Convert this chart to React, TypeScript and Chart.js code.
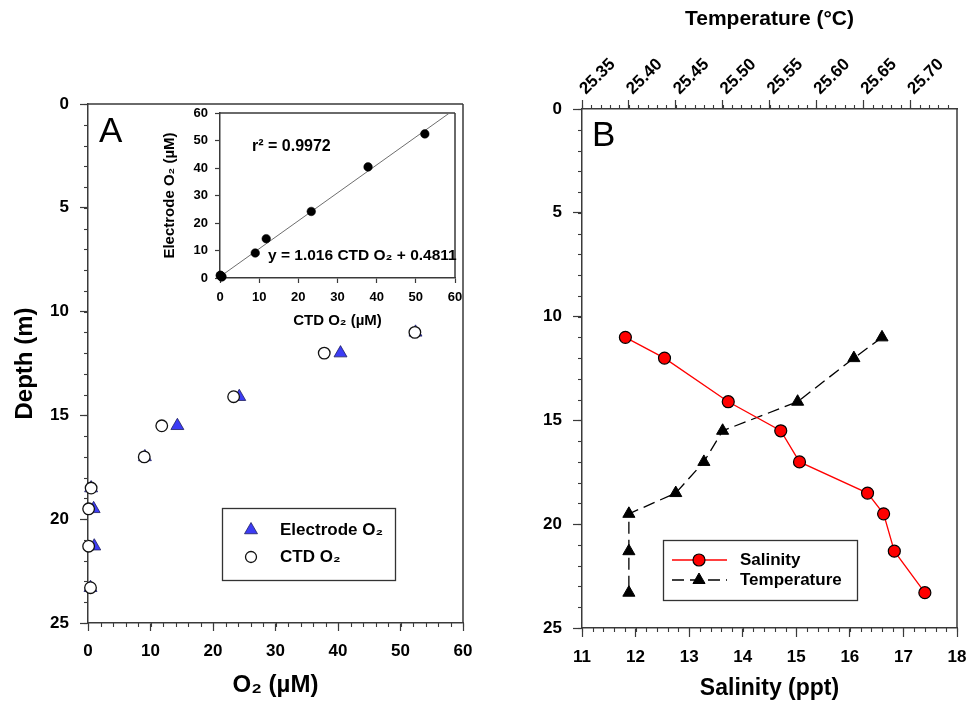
import React, { useEffect, useRef } from 'react';
import { Chart, registerables } from 'chart.js';

Chart.register(...registerables);

const FAMILY = '"Liberation Sans", Arial, Helvetica, sans-serif';
const AXIS_COLOR = '#3a3a3a';
const INK = '#000000';

// ---------- Panel A : O2 depth profiles ----------
const DEPTH_A = [11.0, 12.0, 14.1, 15.5, 17.0, 18.5, 19.5, 21.3, 23.3];
const CTD_O2 = [52.3, 37.8, 23.3, 11.8, 9.0, 0.5, 0.1, 0.1, 0.4];
const ELECTRODE_O2 = [52.4, 40.4, 24.2, 14.3, 9.1, 0.5, 0.9, 1.0, 0.4];
const O2_TICKS = [0, 10, 20, 30, 40, 50, 60];
const DEPTH_TICKS = [0, 5, 10, 15, 20, 25];

// ---------- Inset : electrode vs CTD ----------
const INSET_TICKS = [0, 10, 20, 30, 40, 50, 60];
const FIT_X = [0, 60];
const FIT_Y = [0.48, 61.44];
const R2_LABEL = 'r² = 0.9972';
const FIT_LABEL = 'y = 1.016 CTD O₂ + 0.4811';

// ---------- Panel B : salinity & temperature ----------
const DEPTH_B = [11.0, 12.0, 14.1, 15.5, 17.0, 18.5, 19.5, 21.3, 23.3];
const SALINITY = [11.81, 12.54, 13.73, 14.71, 15.06, 16.33, 16.63, 16.83, 17.4];
const TEMPERATURE = [25.67, 25.64, 25.58, 25.5, 25.48, 25.45, 25.4, 25.4, 25.4];
const SALINITY_TICKS = [11, 12, 13, 14, 15, 16, 17, 18];
const TEMP_TICKS = [25.35, 25.4, 25.45, 25.5, 25.55, 25.6, 25.65, 25.7];

const font = (size: number, weight: string = 'bold') => ({ family: FAMILY, size, weight, lineHeight: 1.2 });

// ---------- plugins ----------
const minorTicksPlugin = {
  id: 'minorTicks',
  afterDraw(chart: any, _a: any, opts: any) {
    const ctx = chart.ctx;
    ctx.save();
    ctx.strokeStyle = AXIS_COLOR;
    ctx.lineWidth = 1.1;
    for (const s of opts.specs || []) {
      const scale = chart.scales[s.id];
      if (!scale) continue;
      const n = Math.round((scale.max - scale.min) / s.step);
      const last = s.skipEnd ? n - 1 : n;
      for (let i = 0; i <= last; i++) {
        const p = Math.round(scale.getPixelForValue(scale.min + i * s.step)) + 0.5;
        ctx.beginPath();
        if (scale.position === 'left') {
          ctx.moveTo(scale.right, p);
          ctx.lineTo(scale.right - s.len, p);
        } else if (scale.position === 'bottom') {
          ctx.moveTo(p, scale.top);
          ctx.lineTo(p, scale.top + s.len);
        } else if (scale.position === 'top') {
          ctx.moveTo(p, scale.bottom);
          ctx.lineTo(p, scale.bottom - s.len);
        }
        ctx.stroke();
      }
    }
    ctx.restore();
  },
};

const framePlugin = {
  id: 'frame',
  beforeDatasetsDraw(chart: any, _a: any, opts: any) {
    const { left, right, top, bottom } = chart.chartArea;
    const ctx = chart.ctx;
    ctx.save();
    ctx.strokeStyle = AXIS_COLOR;
    ctx.lineWidth = 1.5;
    ctx.beginPath();
    for (const side of opts.sides || []) {
      if (side === 'top') { ctx.moveTo(left, top); ctx.lineTo(right, top); }
      if (side === 'right') { ctx.moveTo(right, top); ctx.lineTo(right, bottom); }
    }
    ctx.stroke();
    ctx.restore();
  },
};

const textsPlugin = {
  id: 'texts',
  afterDraw(chart: any, _a: any, opts: any) {
    const ctx = chart.ctx;
    for (const t of opts.items || []) {
      ctx.save();
      ctx.fillStyle = INK;
      ctx.font = `${t.weight || 'bold'} ${t.size}px ${FAMILY}`;
      ctx.textAlign = 'left';
      ctx.textBaseline = 'middle';
      ctx.fillText(t.text, t.x, t.y);
      ctx.restore();
    }
  },
};

function drawMarker(ctx: any, style: string, x: number, y: number, r: number, fill: string, stroke: string, bw: number) {
  ctx.save();
  ctx.fillStyle = fill;
  ctx.strokeStyle = stroke;
  ctx.lineWidth = bw;
  ctx.beginPath();
  if (style === 'triangle') {
    for (let k = 0; k < 3; k++) {
      const a = (k * 2 * Math.PI) / 3;
      const px = x + Math.sin(a) * r;
      const py = y - Math.cos(a) * r;
      if (k === 0) ctx.moveTo(px, py); else ctx.lineTo(px, py);
    }
    ctx.closePath();
  } else {
    ctx.arc(x, y, r, 0, Math.PI * 2);
  }
  ctx.fill();
  if (bw > 0) ctx.stroke();
  ctx.restore();
}

const boxLegendPlugin = {
  id: 'boxLegend',
  afterDraw(chart: any, _a: any, o: any) {
    if (!o || !o.items) return;
    const ctx = chart.ctx;
    ctx.save();
    ctx.fillStyle = '#ffffff';
    ctx.fillRect(o.x, o.y, o.w, o.h);
    ctx.strokeStyle = '#333333';
    ctx.lineWidth = 1.3;
    ctx.strokeRect(o.x + 0.5, o.y + 0.5, o.w, o.h);
    o.items.forEach((it: any, i: number) => {
      const y = o.rows[i];
      if (it.line) {
        ctx.save();
        ctx.strokeStyle = it.line.color;
        ctx.lineWidth = it.line.width;
        ctx.setLineDash(it.line.dash || []);
        ctx.beginPath();
        ctx.moveTo(o.lineX0, y);
        ctx.lineTo(o.lineX1, y);
        ctx.stroke();
        ctx.restore();
      }
      drawMarker(ctx, it.style, o.markerX, y, it.radius, it.fill, it.stroke, it.bw);
      ctx.fillStyle = INK;
      ctx.font = `bold ${o.fontSize}px ${FAMILY}`;
      ctx.textAlign = 'left';
      ctx.textBaseline = 'middle';
      ctx.fillText(it.label, o.textX, y);
    });
    ctx.restore();
  },
};

// ---------- axis helper ----------
function axis(cfg: any) {
  const vertical = cfg.position === 'left' || cfg.position === 'right';
  return {
    type: 'linear',
    position: cfg.position,
    min: cfg.min,
    max: cfg.max,
    reverse: !!cfg.reverse,
    afterBuildTicks: (s: any) => { s.ticks = cfg.ticks.map((v: number) => ({ value: v })); },
    afterFit: (s: any) => {
      if (vertical) s.width = cfg.fit; else s.height = cfg.fit;
      s.paddingLeft = 0; s.paddingRight = 0; s.paddingTop = 0; s.paddingBottom = 0;
    },
    ticks: {
      autoSkip: false,
      padding: cfg.pad,
      labelOffset: cfg.labelOffset || 0,
      color: INK,
      font: font(cfg.tickSize),
      minRotation: cfg.rotation || 0,
      maxRotation: cfg.rotation || 0,
      callback: (v: any) => (cfg.decimals ? Number(v).toFixed(cfg.decimals) : String(v)),
    },
    grid: {
      display: true,
      drawOnChartArea: false,
      drawTicks: true,
      tickLength: cfg.tickLen,
      tickColor: AXIS_COLOR,
      tickWidth: 1.2,
    },
    border: { display: true, color: AXIS_COLOR, width: 1.5 },
    title: cfg.title
      ? { display: true, text: cfg.title, color: INK, font: font(cfg.titleSize), padding: cfg.titlePad }
      : { display: false },
  };
}

function configA(): any {
  return {
    type: 'scatter',
    data: {
      datasets: [
        {
          label: 'CTD O₂',
          data: DEPTH_A.map((d, i) => ({ x: CTD_O2[i], y: d })),
          pointStyle: 'circle',
          pointRadius: 5.8,
          backgroundColor: '#ffffff',
          borderColor: '#111111',
          borderWidth: 1.3,
          clip: false,
        },
        {
          label: 'Electrode O₂',
          data: DEPTH_A.map((d, i) => ({ x: ELECTRODE_O2[i], y: d })),
          pointStyle: 'triangle',
          pointRadius: 7.5,
          backgroundColor: '#3c3cf5',
          borderColor: '#202060',
          borderWidth: 0.8,
          clip: false,
        },
      ],
    },
    options: {
      responsive: false,
      animation: false,
      events: [],
      layout: { padding: { left: 0, top: 104, right: 17, bottom: 0 } },
      plugins: {
        legend: { display: false },
        tooltip: { enabled: false },
        minorTicks: { specs: [{ id: 'x', step: 2, len: 4 }, { id: 'y', step: 1, len: 4 }] },
        frame: { sides: ['top', 'right'] },
        texts: { items: [{ text: 'A', x: 99, y: 132, size: 35, weight: 'normal' }] },
        boxLegend: {
          x: 222, y: 508, w: 173, h: 72,
          rows: [530, 557], markerX: 251, textX: 280, fontSize: 17,
          items: [
            { label: 'Electrode O₂', style: 'triangle', radius: 7.5, fill: '#3c3cf5', stroke: '#202060', bw: 0.8 },
            { label: 'CTD O₂', style: 'circle', radius: 5.5, fill: '#ffffff', stroke: '#111111', bw: 1.3 },
          ],
        },
      },
      scales: {
        x: axis({ position: 'bottom', min: 0, max: 60, ticks: O2_TICKS, fit: 84, pad: 10, tickSize: 17, tickLen: 8, title: 'O₂ (µM)', titleSize: 24, titlePad: { top: 0, bottom: 7 } }),
        y: axis({ position: 'left', min: 0, max: 25, reverse: true, ticks: DEPTH_TICKS, fit: 88, pad: 11, tickSize: 17, tickLen: 8, title: 'Depth (m)', titleSize: 24, titlePad: { top: 11, bottom: 0 } }),
      },
    },
    plugins: [minorTicksPlugin, framePlugin, textsPlugin, boxLegendPlugin],
  };
}

function configInset(): any {
  return {
    type: 'scatter',
    data: {
      datasets: [
        {
          label: 'Electrode vs CTD',
          data: CTD_O2.map((x, i) => ({ x, y: ELECTRODE_O2[i] })),
          pointRadius: 4.3,
          backgroundColor: '#000000',
          borderColor: '#000000',
          borderWidth: 0.5,
          clip: false,
        },
        {
          label: 'fit',
          data: FIT_X.map((x, i) => ({ x, y: FIT_Y[i] })),
          showLine: true,
          pointRadius: 0,
          borderColor: '#6e6e6e',
          borderWidth: 1,
        },
      ],
    },
    options: {
      responsive: false,
      animation: false,
      events: [],
      layout: { padding: { left: 0, top: 13, right: 10, bottom: 0 } },
      plugins: {
        legend: { display: false },
        tooltip: { enabled: false },
        frame: { sides: ['top', 'right'] },
        texts: {
          items: [
            { text: R2_LABEL, x: 102, y: 47, size: 16 },
            { text: FIT_LABEL, x: 118, y: 156, size: 15.5 },
          ],
        },
      },
      scales: {
        x: axis({ position: 'bottom', min: 0, max: 60, ticks: INSET_TICKS, fit: 72, pad: 7, tickSize: 13, tickLen: 5, title: 'CTD O₂ (µM)', titleSize: 15, titlePad: { top: 0, bottom: 20 } }),
        y: axis({ position: 'left', min: 0, max: 60, ticks: INSET_TICKS, fit: 70, pad: 7, tickSize: 13, tickLen: 5, title: 'Electrode O₂ (µM)', titleSize: 15, titlePad: { top: 11, bottom: 0 } }),
      },
    },
    plugins: [framePlugin, textsPlugin],
  };
}

function configB(): any {
  return {
    type: 'scatter',
    data: {
      datasets: [
        {
          label: 'Salinity',
          data: DEPTH_B.map((d, i) => ({ x: SALINITY[i], y: d })),
          xAxisID: 'x',
          yAxisID: 'y',
          showLine: true,
          borderColor: '#ff0000',
          borderWidth: 1.3,
          pointStyle: 'circle',
          pointRadius: 6,
          pointBackgroundColor: '#ff0000',
          pointBorderColor: '#000000',
          pointBorderWidth: 1.2,
          clip: false,
        },
        {
          label: 'Temperature',
          data: DEPTH_B.map((d, i) => ({ x: TEMPERATURE[i], y: d })),
          xAxisID: 'x2',
          yAxisID: 'y',
          showLine: true,
          borderColor: '#000000',
          borderWidth: 1.3,
          borderDash: [12, 6],
          pointStyle: 'triangle',
          pointRadius: 7,
          pointBackgroundColor: '#000000',
          pointBorderColor: '#000000',
          pointBorderWidth: 1,
          clip: false,
        },
      ],
    },
    options: {
      responsive: false,
      animation: false,
      events: [],
      layout: { padding: { left: 0, top: 0, right: 11, bottom: 0 } },
      plugins: {
        legend: { display: false },
        tooltip: { enabled: false },
        minorTicks: {
          specs: [
            { id: 'x', step: 0.2, len: 4 },
            { id: 'x2', step: 0.01, len: 4, skipEnd: true },
            { id: 'y', step: 1, len: 4 },
          ],
        },
        frame: { sides: ['right'] },
        texts: { items: [{ text: 'B', x: 112, y: 136, size: 35, weight: 'normal' }] },
        boxLegend: {
          x: 183, y: 540, w: 194, h: 60,
          rows: [560, 580], markerX: 219, lineX0: 192, lineX1: 247, textX: 260, fontSize: 17,
          items: [
            { label: 'Salinity', style: 'circle', radius: 6, fill: '#ff0000', stroke: '#000000', bw: 1.2, line: { color: '#ff0000', width: 1.3 } },
            { label: 'Temperature', style: 'triangle', radius: 7, fill: '#000000', stroke: '#000000', bw: 1, line: { color: '#000000', width: 1.3, dash: [12, 6] } },
          ],
        },
      },
      scales: {
        x: axis({ position: 'bottom', min: 11, max: 18, ticks: SALINITY_TICKS, fit: 79, pad: 10, tickSize: 17, tickLen: 9, title: 'Salinity (ppt)', titleSize: 23, titlePad: { top: 0, bottom: 5 } }),
        x2: axis({ position: 'top', min: 25.35, max: 25.75, ticks: TEMP_TICKS, decimals: 2, rotation: 45, labelOffset: 15, fit: 109, pad: 1, tickSize: 17, tickLen: 9, title: 'Temperature (°C)', titleSize: 21, titlePad: { top: 7, bottom: 0 } }),
        y: axis({ position: 'left', min: 0, max: 25, reverse: true, ticks: DEPTH_TICKS, fit: 102, pad: 11, tickSize: 17, tickLen: 9 }),
      },
    },
    plugins: [minorTicksPlugin, framePlugin, textsPlugin, boxLegendPlugin],
  };
}

export default function App() {
  const aRef = useRef<HTMLCanvasElement>(null);
  const insetRef = useRef<HTMLCanvasElement>(null);
  const bRef = useRef<HTMLCanvasElement>(null);

  useEffect(() => {
    const charts: Chart[] = [];
    if (aRef.current) charts.push(new Chart(aRef.current, configA()));
    if (insetRef.current) charts.push(new Chart(insetRef.current, configInset()));
    if (bRef.current) charts.push(new Chart(bRef.current, configB()));
    return () => charts.forEach((c) => c.destroy());
  }, []);

  return (
    <div style={{ position: 'absolute', left: 0, top: 0, width: 968, height: 707, background: '#ffffff', overflow: 'hidden' }}>
      <canvas ref={aRef} width={480} height={707} style={{ position: 'absolute', left: 0, top: 0 }} />
      <canvas ref={bRef} width={488} height={707} style={{ position: 'absolute', left: 480, top: 0 }} />
      <canvas ref={insetRef} width={315} height={250} style={{ position: 'absolute', left: 150, top: 100 }} />
    </div>
  );
}
